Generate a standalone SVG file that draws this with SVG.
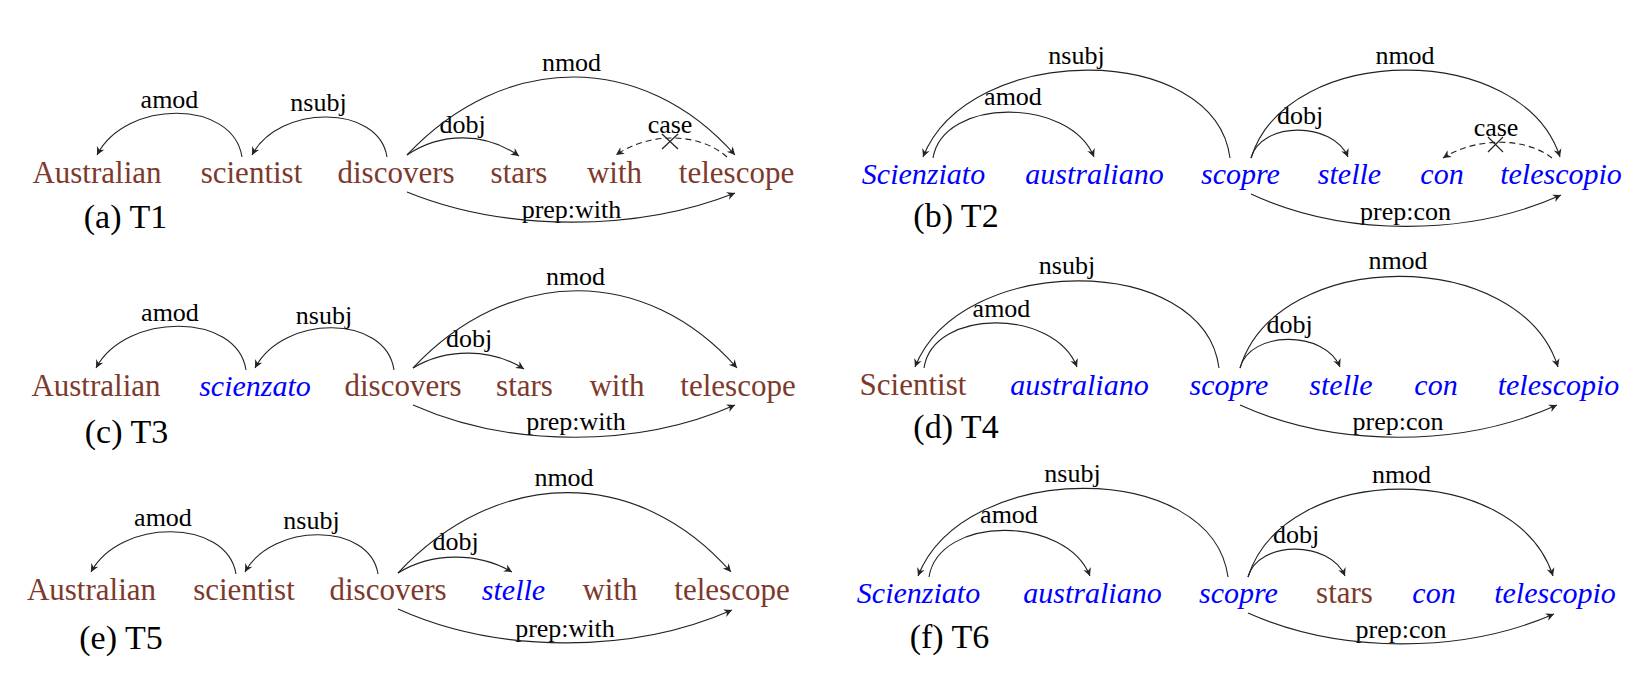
<svg xmlns="http://www.w3.org/2000/svg" width="1650" height="696" viewBox="0 0 1650 696">
<style>
.w{font-family:"Liberation Serif","Times New Roman",serif;font-size:31px;fill:#7d3a2c;text-anchor:middle}
.i{font-family:"Liberation Serif","Times New Roman",serif;font-size:30px;font-style:italic;fill:#0000ff;text-anchor:middle}
.l{font-family:"Liberation Serif","Times New Roman",serif;font-size:26px;fill:#000;text-anchor:middle}
.t{font-family:"Liberation Serif","Times New Roman",serif;font-size:34px;fill:#000;text-anchor:middle}
.a{fill:none;stroke:#222;stroke-width:1.1;marker-end:url(#ah)}
.d{stroke-dasharray:6 4}
.x{stroke:#222;stroke-width:1.2;fill:none}
</style>
<defs>
<marker id="ah" viewBox="-10 -5 12 10" refX="0" refY="0" markerWidth="12" markerHeight="10" markerUnits="userSpaceOnUse" orient="auto">
<path d="M0,0 L-8,-4 L-5.5,0 L-8,4 Z" fill="#222"/>
</marker>
</defs>
<rect width="1650" height="696" fill="#fff"/>

<g id="panel-a">
<text class="w" x="97" y="183">Australian</text>
<text class="w" x="251.5" y="183">scientist</text>
<text class="w" x="396" y="183">discovers</text>
<text class="w" x="519" y="183">stars</text>
<text class="w" x="614.5" y="183">with</text>
<text class="w" x="736.5" y="183">telescope</text>
<text class="t" x="125.5" y="228">(a) T1</text>
<text class="l" x="169.5" y="108">amod</text>
<text class="l" x="318.5" y="111">nsubj</text>
<text class="l" x="571.5" y="71">nmod</text>
<text class="l" x="462.5" y="133">dobj</text>
<text class="l" x="670" y="133">case</text>
<text class="l" x="571.5" y="218">prep:with</text>
</g>

<g id="panel-c">
<text class="w" x="96" y="396">Australian</text>
<text class="i" x="255" y="396">scienzato</text>
<text class="w" x="403" y="396">discovers</text>
<text class="w" x="524.5" y="396">stars</text>
<text class="w" x="617" y="396">with</text>
<text class="w" x="738" y="396">telescope</text>
<text class="t" x="126.5" y="443">(c) T3</text>
<text class="l" x="170" y="321">amod</text>
<text class="l" x="324" y="324">nsubj</text>
<text class="l" x="575.5" y="285">nmod</text>
<text class="l" x="469" y="347">dobj</text>
<text class="l" x="576" y="430">prep:with</text>
</g>

<g id="panel-e">
<text class="w" x="91.5" y="600">Australian</text>
<text class="w" x="244" y="600">scientist</text>
<text class="w" x="388" y="600">discovers</text>
<text class="i" x="513.5" y="600">stelle</text>
<text class="w" x="610" y="600">with</text>
<text class="w" x="732" y="600">telescope</text>
<text class="t" x="121" y="649">(e) T5</text>
<text class="l" x="163" y="526">amod</text>
<text class="l" x="311.5" y="529">nsubj</text>
<text class="l" x="564" y="486">nmod</text>
<text class="l" x="455.5" y="550">dobj</text>
<text class="l" x="565" y="637">prep:with</text>
</g>

<g id="panel-b">
<text class="i" x="923.5" y="184">Scienziato</text>
<text class="i" x="1094.5" y="184">australiano</text>
<text class="i" x="1240.5" y="184">scopre</text>
<text class="i" x="1349.5" y="184">stelle</text>
<text class="i" x="1442" y="184">con</text>
<text class="i" x="1561" y="184">telescopio</text>
<text class="t" x="956" y="227">(b) T2</text>
<text class="l" x="1076.5" y="64">nsubj</text>
<text class="l" x="1013" y="105">amod</text>
<text class="l" x="1405" y="64">nmod</text>
<text class="l" x="1300" y="124">dobj</text>
<text class="l" x="1496" y="136">case</text>
<text class="l" x="1405.5" y="220">prep:con</text>
</g>

<g id="panel-d">
<text class="w" x="913" y="395">Scientist</text>
<text class="i" x="1079.5" y="395">australiano</text>
<text class="i" x="1229" y="395">scopre</text>
<text class="i" x="1341" y="395">stelle</text>
<text class="i" x="1436" y="395">con</text>
<text class="i" x="1558.5" y="395">telescopio</text>
<text class="t" x="956" y="438">(d) T4</text>
<text class="l" x="1067" y="274">nsubj</text>
<text class="l" x="1001.5" y="317">amod</text>
<text class="l" x="1398" y="269">nmod</text>
<text class="l" x="1289.5" y="333">dobj</text>
<text class="l" x="1398" y="430">prep:con</text>
</g>

<g id="panel-f">
<text class="i" x="918.5" y="603">Scienziato</text>
<text class="i" x="1092.5" y="603">australiano</text>
<text class="i" x="1238.5" y="603">scopre</text>
<text class="w" x="1344.5" y="603">stars</text>
<text class="i" x="1434" y="603">con</text>
<text class="i" x="1555" y="603">telescopio</text>
<text class="t" x="949.5" y="648">(f) T6</text>
<text class="l" x="1072.5" y="482">nsubj</text>
<text class="l" x="1009" y="523">amod</text>
<text class="l" x="1401.5" y="483">nmod</text>
<text class="l" x="1296" y="543">dobj</text>
<text class="l" x="1401" y="638">prep:con</text>
</g>

<g id="connectors">
<!-- a -->
<path class="a" d="M242,157 C233,99 126,99 97,155"/>
<path class="a" d="M387,157 C379,104 279,104 252,155"/>
<path class="a" d="M407,155 C505,51 643,51 735,155"/>
<path class="a" d="M407,155 C441,132 485,132 519,156"/>
<path class="a d" d="M727,157 C699,132 649,132 616,155"/>
<path class="x" d="M662,134 L678,149 M662,149 L678,134"/>
<path class="a" d="M407,192 C505,232 637,232 735,193"/>
<!-- c -->
<path class="a" d="M246,370 C237,312 126,312 96,368"/>
<path class="a" d="M394,370 C386,314 283,314 255,368"/>
<path class="a" d="M413,368 C510,265 646,265 737,368"/>
<path class="a" d="M413,368 C446,348 491,348 524,369"/>
<path class="a" d="M413,405 C510,448 638,448 735,405"/>
<!-- e -->
<path class="a" d="M236,574 C227,518 120,518 91,572"/>
<path class="a" d="M378,574 C370,522 272,522 245,572"/>
<path class="a" d="M398,573 C498,466 638,466 731,572"/>
<path class="a" d="M398,573 C432,552 478,552 512,572"/>
<path class="a" d="M398,609 C498,654 632,654 732,610"/>
<!-- b -->
<path class="a" d="M1230,158 C1215,41 969,41 923,157"/>
<path class="a" d="M933,158 C943,97 1070,97 1094,157"/>
<path class="a" d="M1251,158 C1288,41 1523,41 1560,157"/>
<path class="a" d="M1251,158 C1261,121 1333,121 1348,157"/>
<path class="a d" d="M1552,158 C1525,137 1476,137 1443,158"/>
<path class="x" d="M1488,137 L1503,152 M1488,152 L1503,137"/>
<path class="a" d="M1251,194 C1344,237 1468,237 1561,195"/>
<!-- d -->
<path class="a" d="M1219,368 C1204,252 961,252 915,367"/>
<path class="a" d="M924,368 C933,308 1054,308 1077,367"/>
<path class="a" d="M1240,368 C1278,246 1520,246 1558,367"/>
<path class="a" d="M1240,368 C1250,330 1325,330 1340,367"/>
<path class="a" d="M1240,405 C1335,448 1462,448 1557,405"/>
<!-- f -->
<path class="a" d="M1228,577 C1212,459 964,459 918,576"/>
<path class="a" d="M929,577 C939,515 1066,515 1090,576"/>
<path class="a" d="M1248,577 C1285,460 1516,460 1553,576"/>
<path class="a" d="M1248,577 C1258,540 1330,540 1345,576"/>
<path class="a" d="M1248,613 C1340,654 1462,654 1554,614"/>
</g>
</svg>
